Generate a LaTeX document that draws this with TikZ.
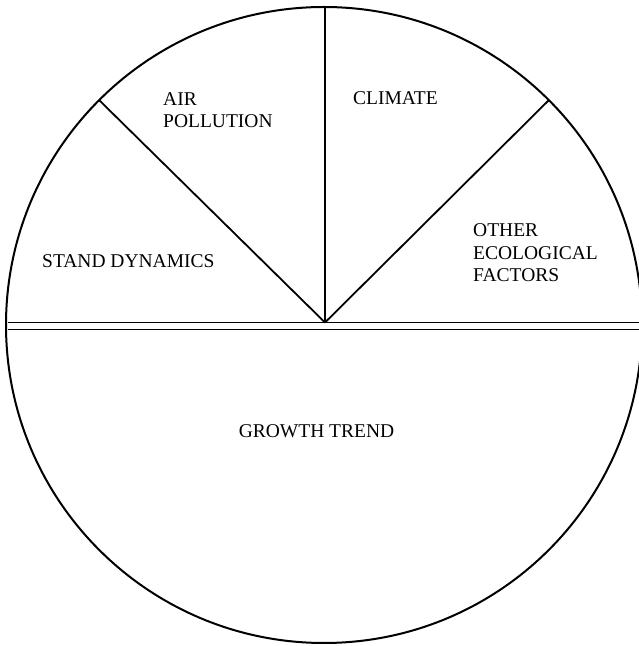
\documentclass[tikz,border=0pt]{standalone}
\usepackage{fontspec}
\setmainfont{Liberation Serif}
\begin{document}
\begin{tikzpicture}[x=1pt, y=1pt,
	lbl/.style={anchor=base west, inner sep=0pt, align=left, font=\fontsize{19.5}{22.5}\selectfont}]
	\useasboundingbox (0, 0) rectangle (639, 646);
	\node[draw, circle, line width=2pt, minimum size=636pt, inner sep=0pt, outer sep=0pt] (pie) at (324, 321) {};
	\coordinate (hub) at (325, 323.5);
	\draw[line width=1.8pt] (hub) -- (pie.135);
	\draw[line width=1.8pt] (hub) -- (hub |- pie.north);
	\draw[line width=1.8pt] (hub) -- (pie.45);
	% double dividing line
	\coordinate (upL) at (8, 323.5);
	\coordinate (upR) at (642, 323.5);
	\coordinate (loL) at (8, 316.5);
	\coordinate (loR) at (642, 316.5);
	\draw[line width=1.6pt] (upL) -- (upR);
	\draw[line width=1.6pt] (loL) -- (loR);
	\node[lbl] (air) at (163, 518) {AIR\\POLLUTION};
	\node[lbl] (climate) at (353, 541) {CLIMATE};
	\node[lbl] (stand) at (42, 378) {STAND DYNAMICS};
	\node[lbl] (other) at (473, 364) {OTHER\\ECOLOGICAL\\FACTORS};
	\node[lbl, anchor=base] (growth) at (316.5, 208) {GROWTH TREND};
\end{tikzpicture}
\end{document}
